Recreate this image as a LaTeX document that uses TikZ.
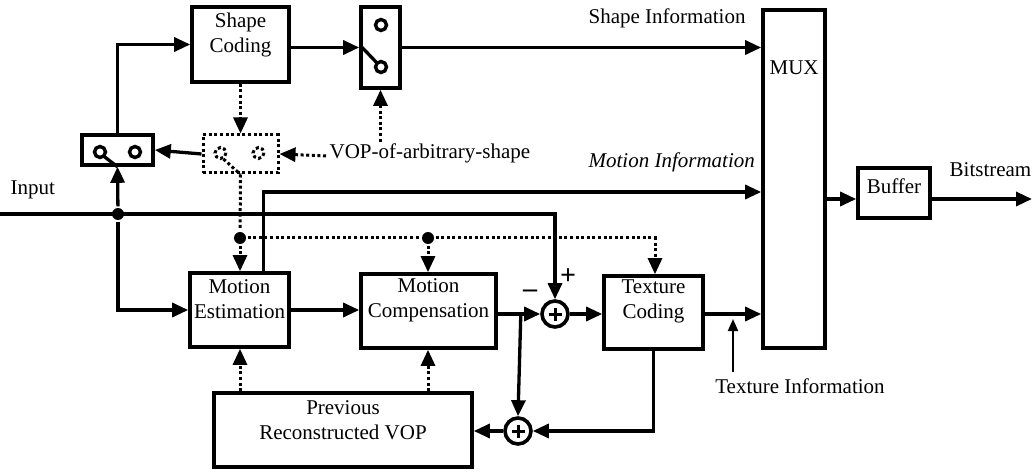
\documentclass[tikz,border=0pt]{standalone}
\usepackage{fontspec}
\setmainfont{Liberation Serif}
\usetikzlibrary{arrows.meta,calc}
\begin{document}
\begin{tikzpicture}[x=1pt,y=-1pt,
  line width=3.3pt,
  >={Triangle[length=16pt,width=14pt]},
  font=\fontsize{21}{25}\selectfont,
  blk/.style={draw, line width=3.6pt, inner sep=0pt},
  txt/.style={inner sep=0pt, align=center},
  sign/.style={inner sep=0pt, font=\fontsize{28}{28}\bfseries},
  dotline/.style={line width=3pt, dash pattern=on 3pt off 2.6pt},
  jdot/.style={circle, fill, inner sep=0pt, minimum size=12pt},
  adder/.style={circle, draw, line width=3.6pt, inner sep=0pt, minimum size=26pt,
    path picture={
      \draw[line width=3pt] ($(path picture bounding box.center)+(-6.5,0)$) -- ++(13,0);
      \draw[line width=3pt] ($(path picture bounding box.center)+(0,-6.5)$) -- ++(0,13);}},
  thin arrow/.style={line width=2pt, -{Triangle[length=12pt,width=10pt]}}]
\useasboundingbox (0,0) rectangle (1034,473);

% ---- blocks ----
\node[blk, minimum width=97pt, minimum height=75pt] (sc) at (240.5,44.5) {};
\node[txt] at ($(sc.center)+(0,-10)$) {Shape\\Coding};
\node[blk, minimum width=71pt, minimum height=30pt] (sw1) at (117.5,150) {};
\node[draw, dotline, inner sep=0pt, minimum width=75pt, minimum height=38pt] (sw2) at (240.5,154) {};
\node[blk, minimum width=39pt, minimum height=81pt] (sw3) at (380.5,47.5) {};
\node[blk, minimum width=99pt, minimum height=74pt] (me) at (239.5,310) {};
\node[txt] at ($(me.center)+(0,-11)$) {Motion\\Estimation};
\node[blk, minimum width=135pt, minimum height=74pt] (mc) at (428.5,311) {};
\node[txt] at ($(mc.center)+(0,-11)$) {Motion\\Compensation};
\node[blk, minimum width=99pt, minimum height=73pt] (tc) at (653.5,312.5) {};
\node[txt] at ($(tc.center)+(0,-11)$) {Texture\\Coding};
\node[blk, minimum width=258pt, minimum height=74pt] (pv) at (343,430) {};
\node[txt] at ($(pv.center)+(0,-10)$) {Previous\\Reconstructed VOP};
\node[blk, minimum width=62pt, minimum height=338pt] (mux) at (794,179) {};
\node[txt, anchor=west] at (768,68) {MUX};
\node[blk, minimum width=72pt, minimum height=50pt] (buf) at (894,193) {};
\node[txt] at ($(buf.center)+(0,-7)$) {Buffer};
\node[adder] (a1) at (555,314) {};
\node[adder] (a2) at (518,431) {};

% ---- switch contents ----
\draw[line width=3.4pt] ($(sw1.center)+(-17.5,2)$) circle[radius=5.5];
\draw[line width=3.4pt] ($(sw1.center)+(17.5,2)$) circle[radius=5.5];
\draw ($(sw1.center)+(-14,6)$) -- (sw1.south);
\draw[line width=3.4pt] ($(sw3.center)+(0.5,-22.5)$) circle[radius=5.5];
\draw[line width=3.4pt] ($(sw3.center)+(0.5,19.5)$) circle[radius=5.5];
\draw ($(sw3.west)+(3,0)$) -- ($(sw3.center)+(-4,15)$);
\draw[dotline] ($(sw2.center)+(-20,-1)$) circle[radius=5.5];
\draw[dotline] ($(sw2.center)+(18,-1)$) circle[radius=5.5];
\draw[dotline] ($(sw2.center)+(-17,5)$) -- (sw2.south);

% ---- labels ----
\node[txt, anchor=west] (inl) at (9,190) {Input};
\node[txt, anchor=west] (vop) at (328,153) {VOP-of-arbitrary-shape};
\node[txt, anchor=west] at (587,18) {Shape Information};
\node[txt, anchor=west] at (587,162) {\itshape Motion Information};
\node[txt, anchor=west] at (948,170) {Bitstream};
\node[txt] (ti) at (800,386) {Texture Information};
\node[sign] at (530,294) {--};
\node[sign] at (568,277) {+};

% ---- junctions and free ends ----
\coordinate (inS) at (0,214);
\node[jdot] (j1) at (118,214) {};
\node[jdot] (j2) at (240,238) {};
\node[jdot] (j3) at (428,238) {};
\coordinate (bo) at ($(mux.east)+(0,20)$);
\coordinate (bsEnd) at (1032,199);
\coordinate (tiTip) at (733,319);
\coordinate (tcTurn) at (655,238);

% ---- solid connectors ----
\draw[->] (inS) -- (inS -| a1.north) -- (a1.north);
\draw[->] (j1) -- (sw1.south);
\draw[->] (j1) |- (me.west);
\draw[->] (sw1.north) |- (sc.west);
\draw[->] (sc.east |- sw3.west) -- (sw3.west);
\draw[->] (sw3.east) -- (sw3.east -| mux.west);
\draw[->] (sw2.west) -- (sw1.east);
\draw[->] ([xshift=24pt]me.north) |- ([yshift=-13pt]mux.west);
\draw[->] (me.east) -- (me.east -| mc.west);
\draw[->] (mc.east |- a1) -- (a1.west);
\draw[->] ($(mc.east |- a1)+(23,0)$) -- (a2.north);
\draw[->] (a1.east) -- (a1.east -| tc.west);
\draw[->] (tc.east |- a1) -- (a1 -| mux.west);
\draw[->] (tc.south) |- (a2.east);
\draw[->] (a2.west) -- (a2 -| pv.east);
\draw[->] (bo) -- (bo -| buf.west);
\draw[->] (bo -| buf.east) -- (bsEnd);
\draw[thin arrow] (ti.north -| tiTip) ++(0,-5) -- (tiTip);

% ---- dotted connectors ----
\draw[dotline,->] (sc.south) -- (sw2.north);
\draw[dotline,->] ($(vop.west)+(-2,3)$) -- (sw2.east);
\draw[dotline,->] (vop.north -| sw3.south) -- (sw3.south);
\draw[dotline] (sw2.south) -- (j2);
\draw[dotline,->] (j2) -- (me.north -| j2);
\draw[dotline] (j2) -- (j3);
\draw[dotline,->] (j3) -- (mc.north -| j3);
\draw[dotline,->] (j3) -- (tcTurn) -- (tc.north -| tcTurn);
\draw[dotline,->] (pv.north -| j2) -- (me.south -| j2);
\draw[dotline,->] (pv.north -| j3) -- (mc.south -| j3);
\end{tikzpicture}
\end{document}
